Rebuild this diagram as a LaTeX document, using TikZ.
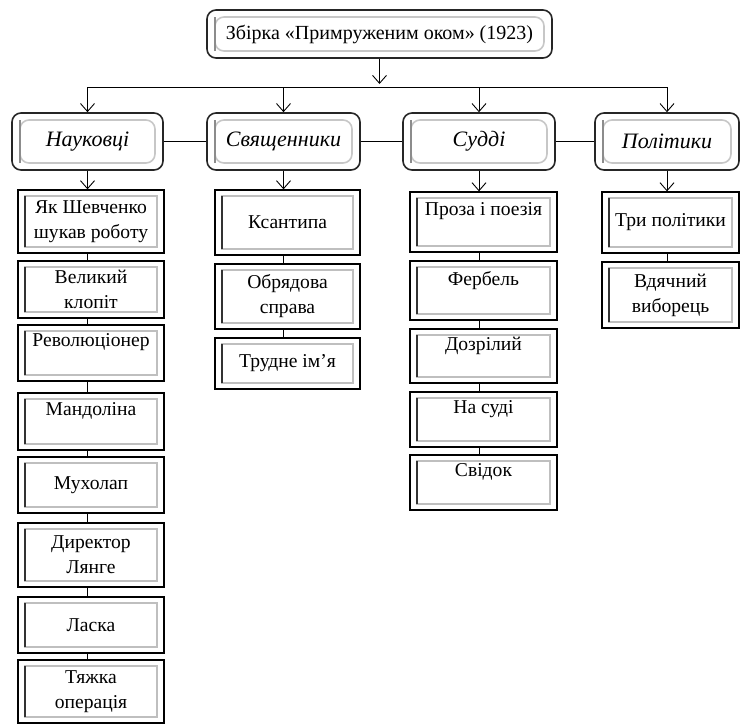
\documentclass[tikz,border=0pt]{standalone}
\usepackage{fontspec}
\setmainfont{Liberation Serif}
\usetikzlibrary{arrows.meta}

\tikzset{
  >={Straight Barb[length=8pt,width=14pt]},
  conn/.style={line width=0.9pt},
  head/.style={draw=black!85, line width=1.6pt, rounded corners=9pt, inner sep=0pt, align=center,
    path picture={
      \draw[black!22, line width=1.6pt] ([shift={(8pt,-7pt)}]path picture bounding box.north west)
        rectangle ([shift={(-8pt,7pt)}]path picture bounding box.south east);
      \draw[black!45, line width=1.4pt] ([shift={(8pt,7pt)}]path picture bounding box.south west)
        -- ([shift={(8pt,-7pt)}]path picture bounding box.north west);
    }},
  cat/.style={head, minimum height=57pt, font=\fontsize{22}{26}\selectfont\itshape},
  item/.style={draw, line width=1.3pt, inner sep=0pt, align=center, minimum width=146pt,
    font=\fontsize{19.6}{25}\selectfont,
    path picture={
      \draw[black!25, line width=1.6pt] ([shift={(7pt,-6pt)}]path picture bounding box.north west)
        rectangle ([shift={(-7pt,6pt)}]path picture bounding box.south east);
      \draw[black!80, line width=2pt] ([shift={(7pt,-6pt)}]path picture bounding box.north west)
        -- ([shift={(7pt,6pt)}]path picture bounding box.south west);
    }},
}

\begin{document}
\begin{tikzpicture}[x=1pt,y=-1pt]
  \useasboundingbox (0,0) rectangle (741,724);
  %% title
  \node[head, minimum width=345pt, minimum height=48pt, font=\fontsize{20}{24}\selectfont] (title) at (379.5,34) {Збірка «Примруженим оком» (1923)};
  \coordinate (bus) at (0,87);
  %% groups
  \node[cat, minimum width=151pt] (nauk) at (87.5,141.5) {Науковці};
  \node[cat, minimum width=153pt] (svyas) at (283.5,141.5) {Священники};
  \node[cat, minimum width=152pt] (sud) at (479,141.5) {Судді};
  \node[cat, minimum width=144pt] (polit) at (667,141.5) {Політики};
  \draw[conn,->] (title.south) -- ([yshift=3pt]title.south |- bus);
  \draw[conn] (nauk |- bus) -- (polit |- bus);
  \foreach \g in {nauk,svyas,sud,polit}
    \draw[conn,->] (\g |- bus) -- (\g.north);
  \draw[conn] (nauk.east) -- (svyas.west);
  \draw[conn] (svyas.east) -- (sud.west);
  \draw[conn] (sud.east) -- (polit.west);
  %% scientists
  \node[item, minimum height=63pt] (n1) at (91,221.5) {Як Шевченко\\шукав роботу};
  \node[item, minimum height=57pt] (n2) at (91,289.5) {Великий\\клопіт};
  \node[item, minimum height=56pt] (n3) at (91,353) {Революціонер\\ \mbox{}};
  \node[item, minimum height=57pt] (n4) at (91,421.5) {Мандоліна\\ \mbox{}};
  \node[item, minimum height=56pt] (n5) at (91,485) {Мухолап};
  \node[item, minimum height=64pt] (n6) at (91,555) {Директор\\Лянге};
  \node[item, minimum height=56pt] (n7) at (91,625) {Ласка};
  \node[item, minimum height=63pt] (n8) at (91,691.5) {Тяжка\\операція};
  \draw[conn,->] (nauk.south) -- (nauk.south |- n1.north);
  \foreach \a/\b in {n1/n2,n2/n3,n3/n4,n4/n5,n5/n6,n6/n7,n7/n8}
    \draw[conn] (\a.south -| nauk) -- (\b.north -| nauk);
  %% priests
  \node[item, minimum width=145pt, minimum height=65pt] (p1) at (287.5,222.5) {Ксантипа};
  \node[item, minimum width=145pt, minimum height=65pt] (p2) at (287.5,296.5) {Обрядова\\справа};
  \node[item, minimum width=145pt, minimum height=51pt] (p3) at (287.5,363.5) {Трудне ім’я};
  \draw[conn,->] (svyas.south) -- (svyas.south |- p1.north);
  \foreach \a/\b in {p1/p2,p2/p3}
    \draw[conn] (\a.south -| svyas) -- (\b.north -| svyas);
  %% judges
  \node[item, minimum width=147pt, minimum height=60pt] (j1) at (483.5,222) {Проза і поезія\\ \mbox{}};
  \node[item, minimum width=147pt, minimum height=59pt] (j2) at (483.5,290.5) {Фербель\\ \mbox{}};
  \node[item, minimum width=147pt, minimum height=54pt] (j3) at (483.5,356) {Дозрілий\\ \mbox{}};
  \node[item, minimum width=147pt, minimum height=55pt] (j4) at (483.5,419.5) {На суді\\ \mbox{}};
  \node[item, minimum width=147pt, minimum height=55pt] (j5) at (483.5,482.5) {Свідок\\ \mbox{}};
  \draw[conn,->] (sud.south) -- (sud.south |- j1.north);
  \foreach \a/\b in {j1/j2,j2/j3,j3/j4,j4/j5}
    \draw[conn] (\a.south -| sud) -- (\b.north -| sud);
  %% politicians
  \node[item, minimum width=137pt, minimum height=61pt] (t1) at (670.5,222.5) {Три політики};
  \node[item, minimum width=137pt, minimum height=66pt] (t2) at (670.5,295) {Вдячний\\виборець};
  \draw[conn,->] (polit.south) -- (polit.south |- t1.north);
  \draw[conn] (t1.south -| polit) -- (t2.north -| polit);
\end{tikzpicture}
\end{document}
